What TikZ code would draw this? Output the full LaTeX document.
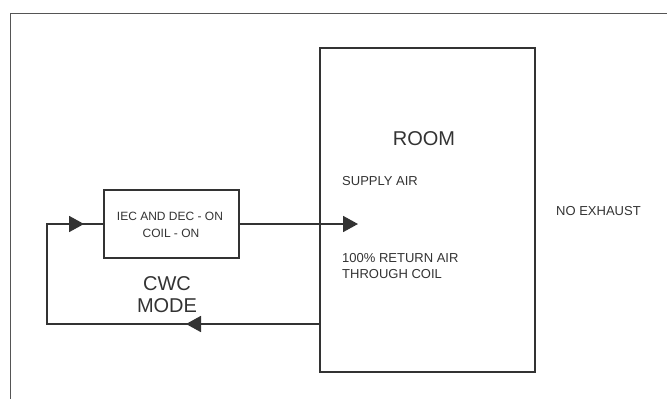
\documentclass[tikz,border=0pt]{standalone}
\usepackage{fontspec}
\setmainfont{Liberation Sans}
\usetikzlibrary{arrows.meta}
\definecolor{ink}{HTML}{333333}
\definecolor{frame}{HTML}{555555}
\begin{document}
\begin{tikzpicture}[x=1pt,y=-1pt,
  conn/.style={draw=ink,line width=1.8pt},
  tipline/.style={draw=ink,line width=1.8pt,-{Triangle[length=15pt,width=16pt]}},
  boxstyle/.style={draw=ink,line width=1.8pt,inner sep=0pt},
  lbl/.style={text=ink,inner sep=0pt},
  small/.style={lbl,font=\fontsize{13}{15}\selectfont},
  big/.style={lbl,font=\fontsize{20}{23}\selectfont}]
\useasboundingbox (0,0) rectangle (667,399);
% outer frame
\draw[frame,line width=0.9pt] (10,399) -- (10,13) -- (667,13);
% nodes
\node[boxstyle,minimum width=215pt,minimum height=324pt] (room) at (427.5,210) {};
\node[boxstyle,minimum width=135pt,minimum height=68pt] (box) at (171.5,224) {};
\node[big,anchor=base] (roomlbl) at (424,145) {ROOM};
\node[small,anchor=base west] (supply) at (342,185) {SUPPLY AIR};
\node[small,anchor=base west] (ret1) at (342,262) {100\% RETURN AIR};
\node[small,anchor=base west] (ret2) at (342,278) {THROUGH COIL};
\node[small,anchor=base west] (noex) at (556,215) {NO EXHAUST};
\node[lbl,font=\fontsize{12}{14}\selectfont,anchor=base] (iec1) at (170,220) {IEC AND DEC - ON};
\node[lbl,font=\fontsize{12}{14}\selectfont,anchor=base] (iec2) at (171,237) {COIL - ON};
\node[big,anchor=base] (cwc1) at (167,290) {CWC};
\node[big,anchor=base] (cwc2) at (167,312) {MODE};
% connectors
\coordinate (bl) at (47,324);
\coordinate (tl) at (47,224);
\coordinate (ab) at (186,324);
\coordinate (at) at (84,224);
\coordinate (st) at (358,224);
\draw[conn] (bl -| room.west) -- (bl) -- (tl) -- (box.west);
\draw[tipline] (bl -| room.west) -- (ab);
\draw[tipline] (tl) -- (at);
\draw[tipline] (box.east) -- (st);
\end{tikzpicture}
\end{document}
